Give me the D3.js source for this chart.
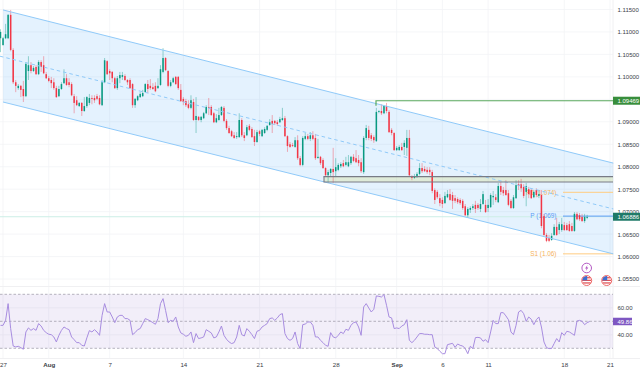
<!DOCTYPE html>
<html>
<head>
<meta charset="utf-8">
<script src="https://cdn.jsdelivr.net/npm/d3@7"></script>
<style>
  html, body { margin: 0; padding: 0; background: #fff; }
  svg { display: block; font-family: "Liberation Sans", Arial, sans-serif; }
</style>
</head>
<body>
<svg id="chart" width="640" height="372"></svg>
<script>
"use strict";

// price ticks on the right axis (1.09500 sits under the green label)
const priceTicks = [1.115, 1.11, 1.105, 1.1, 1.09, 1.085, 1.08, 1.075, 1.07, 1.065, 1.06, 1.055];
const priceGrid = [1.115, 1.11, 1.105, 1.1, 1.095, 1.09, 1.085, 1.08, 1.075, 1.07, 1.065, 1.06, 1.055];

// bar number of each date label
const dateBars = [1, 19, 43, 72, 102, 132, 156, 174, 192, 222, 240];
const dateLabels = ["27", "Aug", "7", "14", "21", "28", "Sep", "6", "11", "18", "21"];
const boldDates = ["Aug", "Sep"];

// candles, in price
const opens = [
1.1086,1.1071,1.1086,1.1086,1.1138,1.1060,1.0988,1.0975,1.0980,1.0973,1.0957,1.1013,1.1026,1.1013,1.1022,1.1006,1.1033,1.1026,1.1006,1.0997,1.0993,1.0988,1.0975,1.0957,1.0973,1.0986,1.0997,1.0988,1.0984,1.0957,1.0948,1.0935,1.0942,1.0924,1.0935,1.0942,1.0953,1.0953,1.0957,1.0953,1.0937,1.0988,1.1035,1.1013,1.1011,1.0997,1.0975,1.0997,1.1000,1.1002,1.0993,1.0993,1.0984,1.0937,1.0948,1.0955,1.0957,1.0966,1.0984,1.0980,1.0977,1.0980,1.0975,1.0982,1.1011,1.1042,1.1013,1.0980,1.0988,1.1000,1.1000,1.0971,1.0951,1.0946,1.0939,1.0931,1.0944,1.0904,1.0911,1.0904,1.0908,1.0919,1.0933,1.0933,1.0919,
1.0899,1.0904,1.0915,1.0931,1.0902,1.0886,1.0879,1.0870,1.0866,1.0866,1.0904,1.0870,1.0870,1.0891,1.0884,1.0868,1.0855,1.0879,1.0868,1.0875,1.0882,1.0893,1.0902,1.0902,1.0899,1.0899,1.0904,1.0908,1.0868,1.0850,1.0848,1.0844,1.0859,1.0819,1.0804,1.0862,1.0868,1.0862,1.0870,1.0864,1.0819,1.0822,1.0815,1.0797,1.0781,1.0786,1.0795,1.0790,1.0793,1.0801,1.0808,1.0804,1.0801,1.0808,1.0822,1.0819,1.0815,1.0810,1.0788,1.0864,1.0882,1.0870,1.0866,1.0857,1.0922,1.0924,1.0919,1.0935,1.0922,1.0882,1.0875,1.0837,1.0837,1.0844,1.0844,1.0842,1.0864,1.0779,1.0775,1.0777,1.0784,1.0797,1.0795,1.0793,
1.0793,1.0788,1.0748,1.0744,1.0730,1.0726,1.0719,1.0732,1.0739,1.0737,1.0730,1.0728,1.0726,1.0724,1.0712,1.0692,1.0704,1.0708,1.0715,1.0715,1.0706,1.0717,1.0715,1.0708,1.0710,1.0732,1.0732,1.0721,1.0757,1.0748,1.0748,1.0741,1.0724,1.0708,1.0730,1.0761,1.0761,1.0755,1.0744,1.0750,1.0748,1.0732,1.0748,1.0735,1.0737,1.0690,1.0648,1.0641,1.0637,1.0648,1.0666,1.0659,1.0659,1.0670,1.0670,1.0672,1.0668,1.0657,1.0695,1.0692,1.0688,1.0679,1.0686
];
const highs = [
1.1106,1.1089,1.1118,1.1140,1.1149,1.1064,1.0993,1.0984,1.0982,1.0991,1.1033,1.1046,1.1033,1.1024,1.1026,1.1037,1.1037,1.1046,1.1011,1.1002,1.1000,1.0997,1.0980,1.0980,1.0988,1.1017,1.1006,1.0997,1.0988,1.0962,1.0957,1.0944,1.0944,1.0955,1.0957,1.0962,1.0959,1.0959,1.0962,1.0959,1.0993,1.1042,1.1037,1.1017,1.1013,1.1000,1.1002,1.1011,1.1011,1.1006,1.0995,1.0997,1.0986,1.0953,1.0959,1.0966,1.0971,1.0986,1.0993,1.0995,1.0986,1.0988,1.0997,1.1026,1.1064,1.1044,1.1015,1.0993,1.1000,1.1002,1.1002,1.0984,1.0955,1.0951,1.0948,1.0959,1.0951,1.0955,1.0913,1.0913,1.0922,1.0937,1.0953,1.0937,1.0922,
1.0917,1.0931,1.0935,1.0935,1.0906,1.0891,1.0882,1.0877,1.0877,1.0919,1.0908,1.0877,1.0893,1.0895,1.0888,1.0882,1.0882,1.0882,1.0884,1.0888,1.0893,1.0906,1.0915,1.0904,1.0904,1.0911,1.0931,1.0913,1.0870,1.0855,1.0853,1.0866,1.0870,1.0824,1.0868,1.0875,1.0873,1.0877,1.0879,1.0873,1.0862,1.0824,1.0819,1.0799,1.0793,1.0797,1.0842,1.0819,1.0808,1.0810,1.0815,1.0822,1.0826,1.0824,1.0828,1.0837,1.0826,1.0819,1.0868,1.0893,1.0891,1.0875,1.0870,1.0931,1.0926,1.0939,1.0937,1.0942,1.0926,1.0886,1.0877,1.0846,1.0848,1.0853,1.0859,1.0882,1.0882,1.0781,1.0784,1.0788,1.0808,1.0808,1.0801,1.0799,
1.0799,1.0793,1.0752,1.0748,1.0739,1.0732,1.0744,1.0748,1.0750,1.0744,1.0737,1.0732,1.0730,1.0728,1.0717,1.0710,1.0712,1.0717,1.0724,1.0719,1.0728,1.0746,1.0726,1.0728,1.0741,1.0746,1.0739,1.0764,1.0766,1.0755,1.0770,1.0748,1.0728,1.0737,1.0770,1.0770,1.0773,1.0761,1.0764,1.0755,1.0752,1.0748,1.0752,1.0748,1.0748,1.0695,1.0652,1.0648,1.0652,1.0672,1.0686,1.0677,1.0686,1.0677,1.0675,1.0679,1.0675,1.0699,1.0699,1.0697,1.0695,1.0695,1.0693
];
const lows = [
1.1055,1.1069,1.1084,1.1084,1.1057,1.0984,1.0966,1.0971,1.0955,1.0944,1.0955,1.0993,1.1008,1.1011,1.1004,1.1004,1.1011,1.1006,1.0995,1.0988,1.0975,1.0971,1.0953,1.0955,1.0971,1.0984,1.0980,1.0977,1.0957,1.0919,1.0935,1.0933,1.0913,1.0922,1.0931,1.0937,1.0939,1.0942,1.0948,1.0937,1.0935,1.0986,1.1004,1.0993,1.0988,1.0973,1.0971,1.0986,1.0993,1.0991,1.0982,1.0973,1.0931,1.0931,1.0946,1.0953,1.0955,1.0966,1.0964,1.0971,1.0971,1.0966,1.0973,1.0980,1.1008,1.1013,1.0977,1.0977,1.0986,1.0982,1.0971,1.0944,1.0937,1.0933,1.0928,1.0928,1.0902,1.0875,1.0902,1.0899,1.0906,1.0917,1.0915,1.0913,1.0897,
1.0897,1.0902,1.0913,1.0899,1.0882,1.0873,1.0866,1.0862,1.0862,1.0864,1.0866,1.0857,1.0868,1.0879,1.0864,1.0846,1.0853,1.0868,1.0866,1.0873,1.0879,1.0891,1.0875,1.0893,1.0891,1.0897,1.0902,1.0866,1.0833,1.0842,1.0844,1.0842,1.0815,1.0801,1.0801,1.0859,1.0859,1.0857,1.0859,1.0815,1.0819,1.0804,1.0795,1.0779,1.0764,1.0779,1.0764,1.0779,1.0790,1.0797,1.0799,1.0801,1.0799,1.0804,1.0810,1.0808,1.0801,1.0786,1.0784,1.0859,1.0859,1.0857,1.0853,1.0855,1.0919,1.0915,1.0917,1.0919,1.0875,1.0870,1.0835,1.0835,1.0835,1.0835,1.0826,1.0824,1.0779,1.0770,1.0773,1.0775,1.0781,1.0786,1.0788,1.0784,
1.0781,1.0741,1.0717,1.0728,1.0712,1.0708,1.0717,1.0730,1.0724,1.0706,1.0719,1.0717,1.0715,1.0704,1.0690,1.0686,1.0697,1.0704,1.0697,1.0704,1.0699,1.0715,1.0697,1.0699,1.0708,1.0715,1.0721,1.0719,1.0737,1.0735,1.0735,1.0712,1.0706,1.0706,1.0728,1.0748,1.0744,1.0730,1.0712,1.0730,1.0728,1.0730,1.0732,1.0730,1.0663,1.0646,1.0632,1.0632,1.0635,1.0646,1.0646,1.0650,1.0655,1.0657,1.0657,1.0655,1.0655,1.0655,1.0681,1.0679,1.0677,1.0675,1.0683
];
const closes = [
1.1100,1.1086,1.1095,1.1138,1.1060,1.0988,1.0980,1.0980,1.0971,1.0957,1.1029,1.1026,1.1013,1.1020,1.1006,1.1033,1.1022,1.1008,1.0997,1.0991,1.0986,1.0975,1.0955,1.0973,1.0984,1.0997,1.0982,1.0982,1.0959,1.0942,1.0937,1.0942,1.0924,1.0935,1.0955,1.0953,1.0951,1.0948,1.0951,1.0939,1.0988,1.1037,1.1006,1.1008,1.0997,1.0975,1.0997,1.1004,1.1004,1.0993,1.0988,1.0975,1.0937,1.0951,1.0957,1.0962,1.0964,1.0984,1.0973,1.0975,1.0973,1.0968,1.0980,1.1017,1.1042,1.1015,1.0980,1.0988,1.0997,1.0984,1.0975,1.0946,1.0944,1.0937,1.0931,1.0948,1.0904,1.0913,1.0904,1.0911,1.0919,1.0933,1.0931,1.0915,1.0899,
1.0908,1.0915,1.0933,1.0902,1.0886,1.0875,1.0868,1.0864,1.0868,1.0904,1.0870,1.0864,1.0888,1.0882,1.0866,1.0855,1.0877,1.0873,1.0882,1.0884,1.0891,1.0899,1.0895,1.0897,1.0895,1.0906,1.0908,1.0868,1.0846,1.0844,1.0846,1.0859,1.0819,1.0804,1.0864,1.0868,1.0862,1.0870,1.0862,1.0819,1.0822,1.0808,1.0797,1.0781,1.0788,1.0795,1.0788,1.0799,1.0804,1.0806,1.0801,1.0810,1.0810,1.0822,1.0813,1.0810,1.0808,1.0790,1.0864,1.0886,1.0864,1.0862,1.0859,1.0922,1.0924,1.0919,1.0935,1.0924,1.0877,1.0875,1.0837,1.0842,1.0844,1.0837,1.0853,1.0864,1.0781,1.0775,1.0779,1.0784,1.0797,1.0790,1.0790,1.0788,
1.0788,1.0746,1.0726,1.0732,1.0719,1.0717,1.0735,1.0739,1.0726,1.0724,1.0724,1.0721,1.0719,1.0708,1.0692,1.0706,1.0708,1.0712,1.0706,1.0708,1.0717,1.0739,1.0699,1.0715,1.0737,1.0735,1.0726,1.0757,1.0744,1.0741,1.0737,1.0715,1.0708,1.0732,1.0759,1.0757,1.0752,1.0735,1.0757,1.0739,1.0730,1.0744,1.0737,1.0739,1.0668,1.0648,1.0635,1.0635,1.0646,1.0666,1.0648,1.0672,1.0672,1.0659,1.0659,1.0657,1.0657,1.0695,1.0683,1.0683,1.0679,1.0688,1.0688
];

// RSI line, one value per bar
const rsiValues = [
47.0,47.0,50.7,63.1,44.6,31.7,31.0,31.5,30.5,29.3,42.1,45.1,43.3,44.6,43.3,48.3,46.5,43.3,41.6,40.4,40.1,38.4,34.7,39.6,43.3,45.8,44.6,43.8,38.4,36.4,34.2,34.2,32.2,31.7,37.7,43.1,42.1,43.8,42.1,39.6,54.4,63.1,56.9,56.9,53.2,49.0,53.2,54.4,54.4,52.0,52.0,50.7,40.1,41.6,43.8,44.6,48.3,52.0,51.2,50.2,49.0,47.8,52.0,63.1,66.8,58.1,49.0,50.7,50.0,53.2,45.8,41.4,40.4,38.9,39.6,42.1,34.2,40.9,37.2,37.7,38.4,43.8,42.6,41.4,37.7,38.4,42.1,46.5,39.6,36.7,34.7,33.5,34.2,38.4,47.0,40.1,39.1,44.6,42.6,40.1,37.2,42.6,43.3,45.8,47.0,48.3,52.0,52.5,50.7,52.5,54.9,55.7,40.9,37.2,35.9,37.2,42.1,33.5,29.8,47.5,48.0,49.5,49.5,47.0,38.4,38.4,35.9,
34.2,32.2,31.5,41.6,38.4,37.7,39.6,42.1,40.9,44.1,43.3,47.0,49.0,49.5,45.8,39.6,60.6,63.1,59.9,56.9,58.9,68.8,68.5,68.0,69.8,61.9,53.2,52.5,44.6,45.1,44.6,46.5,47.5,51.2,35.9,34.2,35.9,38.4,40.9,40.9,40.4,40.4,40.1,40.1,31.0,29.8,27.8,26.0,26.0,32.7,33.2,33.7,30.7,33.2,32.2,31.7,29.8,26.0,31.5,29.8,37.9,38.1,37.7,35.2,36.4,34.2,42.1,50.7,48.3,48.3,56.4,56.4,54.0,51.2,42.1,40.1,47.0,56.9,58.1,55.7,50.0,53.2,51.5,47.5,51.2,53.2,45.8,34.7,30.5,29.8,29.8,33.5,37.2,34.7,41.6,39.6,42.6,42.1,40.9,39.6,50.2,50.7,50.0,47.5,49.0,49.86
];
const rsiTicks = [60, 40];
const rsiBands = [70, 50, 30];

if (new Set([opens.length, highs.length, lows.length, closes.length]).size > 1) {
    throw new Error(`lengths ${opens.length} ${highs.length} ${lows.length} ${closes.length} ${rsiValues.length}`);
}

// channel anchors: [bar, price]
const channelUpper = [[1, 1.1149], [241.3, 1.0808]];
const channelMiddle = [[-0.2, 1.1046], [241.3, 1.0706]];
const channelLower = [[1, 1.0944], [241.3, 1.0606]];

const lastPrice = 1.06886;
const highLevel = 1.09469;
const zoneTop = 1.0778;
const zoneBottom = 1.0766;
const pivots = [
    { label: "R1 (1.074)", price: 1.0743, color: "#ffcc80", text: "#f5b25c" },
    { label: "P (1.069)", price: 1.069, color: "#5b9cf6", text: "#5b9cf6" },
    { label: "S1 (1.06)", price: 1.0606, color: "#ffcc80", text: "#f5b25c" }
];

const W = 613;
const green = "#089981", red = "#f23645";

const svg = d3.select("#chart");
const x = d3.scaleLinear().domain([0, 240]).range([0.5, 610]);
const y = d3.scaleLinear().domain([1.115, 1.055]).range([9.5, 279]);
const yRsi = d3.scaleLinear().domain([70, 30]).range([294.3, 348.3]);

// grid
const grid = svg.append("g").attr("stroke", "#f3f4f6").attr("stroke-width", 0.8);
priceGrid.forEach(p => grid.append("line").attr("x1", 0).attr("x2", W).attr("y1", y(p)).attr("y2", y(p)));
[60, 40].forEach(v => grid.append("line").attr("x1", 0).attr("x2", W).attr("y1", yRsi(v)).attr("y2", yRsi(v)));
dateBars.forEach(b => grid.append("line").attr("x1", x(b)).attr("x2", x(b)).attr("y1", 0).attr("y2", 358));
svg.append("line").attr("x1", 0).attr("x2", 640).attr("y1", 286.5).attr("y2", 286.5).attr("stroke", "#f0f0f2");
svg.append("line").attr("x1", 0).attr("x2", 640).attr("y1", 358.5).attr("y2", 358.5).attr("stroke", "#f0f0f2");
svg.append("line").attr("x1", W).attr("x2", W).attr("y1", 0).attr("y2", 358).attr("stroke", "#f0f0f2");

// channel
const pt = d => [x(d[0]), y(d[1])];
svg.append("path")
    .attr("d", d3.line()([pt(channelUpper[0]), pt(channelUpper[1]), pt(channelLower[1]), pt(channelLower[0])]) + "Z")
    .attr("fill", "#2196f3").attr("fill-opacity", 0.12);

// last price line
svg.append("line").attr("x1", 0).attr("x2", W).attr("y1", y(lastPrice)).attr("y2", y(lastPrice))
    .attr("stroke", "#cdeee6").attr("stroke-width", 1);

// support zone
svg.append("rect").attr("x", 324).attr("width", W - 324).attr("y", y(zoneTop)).attr("height", y(zoneBottom) - y(zoneTop))
    .attr("fill", "#d4dc7a").attr("fill-opacity", 0.28);

// pivots
pivots.forEach(d => {
    svg.append("line").attr("x1", 563).attr("x2", W).attr("y1", y(d.price)).attr("y2", y(d.price))
        .attr("stroke", d.color).attr("stroke-width", 1);
    svg.append("text").attr("x", 556.5).attr("y", y(d.price) + 2.2).attr("text-anchor", "end")
        .attr("font-size", 6.4).attr("fill", d.text).text(d.label);
});

// candles
const bars = closes.map((c, i) => ({ i: i, o: opens[i], h: highs[i], l: lows[i], c: c }));
const candle = svg.append("g").selectAll("g").data(bars).join("g");
candle.append("line")
    .attr("x1", d => x(d.i)).attr("x2", d => x(d.i))
    .attr("y1", d => y(d.h)).attr("y2", d => y(d.l))
    .attr("stroke", d => d.c >= d.o ? green : red)
    .attr("stroke-opacity", 0.4).attr("stroke-width", 1);
candle.append("rect")
    .attr("x", d => x(d.i) - 0.75).attr("width", 1.5)
    .attr("y", d => Math.min(y(d.o), y(d.c)))
    .attr("height", d => Math.max(0.8, Math.abs(y(d.o) - y(d.c))))
    .attr("fill", d => d.c >= d.o ? green : red);

// channel lines
const line = d3.line().x(d => x(d[0])).y(d => y(d[1]));
svg.append("path").attr("d", line(channelUpper)).attr("fill", "none").attr("stroke", "#90caf9").attr("stroke-width", 1);
svg.append("path").attr("d", line(channelLower)).attr("fill", "none").attr("stroke", "#90caf9").attr("stroke-width", 1);
svg.append("path").attr("d", line(channelMiddle)).attr("fill", "none").attr("stroke", "#90caf9").attr("stroke-width", 1).attr("stroke-dasharray", "3.5 3");

// zone borders
[zoneTop, zoneBottom].forEach(p => svg.append("line").attr("x1", 323.5).attr("x2", W).attr("y1", y(p)).attr("y2", y(p))
    .attr("stroke", "#787b86").attr("stroke-width", 1.1));
svg.append("line").attr("x1", 324).attr("x2", 324).attr("y1", y(zoneTop)).attr("y2", y(zoneBottom))
    .attr("stroke", "#787b86").attr("stroke-width", 1.1);

// high level
svg.append("path")
    .attr("d", `M376,${y(highLevel) + 5}V${y(highLevel)}H${W}`)
    .attr("fill", "none").attr("stroke", "#5aa85e").attr("stroke-width", 1.2);

// event icons
const defs = svg.append("defs");
defs.append("clipPath").attr("id", "flagClip").append("circle").attr("r", 4.6);
function flag(cx, cy) {
    const g = svg.append("g").attr("transform", `translate(${cx},${cy})`);
    const inner = g.append("g").attr("clip-path", "url(#flagClip)");
    inner.append("rect").attr("x", -5).attr("y", -5).attr("width", 10).attr("height", 10).attr("fill", "#fff");
    [-3.4, -0.8, 1.8].forEach(s => inner.append("rect").attr("x", -5).attr("y", s).attr("width", 10).attr("height", 1.3).attr("fill", "#e0565a"));
    inner.append("rect").attr("x", -5).attr("y", -5).attr("width", 5.5).attr("height", 4.8).attr("fill", "#3d6fd0");
    g.append("circle").attr("r", 5).attr("fill", "none").attr("stroke", "#f06a6a").attr("stroke-width", 1);
}
flag(586.7, 280.5);
flag(606.7, 280.5);
const bolt = svg.append("g").attr("transform", "translate(586.7,268)");
bolt.append("circle").attr("r", 4.8).attr("fill", "#fff").attr("stroke", "#ab47bc").attr("stroke-width", 0.9);
bolt.append("path").attr("d", "M0.9,-3L-1.6,0.5H0L-0.9,3L1.6,-0.6H0Z").attr("fill", "#ab47bc");

// RSI pane
svg.append("rect").attr("x", 0).attr("width", W).attr("y", yRsi(70)).attr("height", yRsi(30) - yRsi(70))
    .attr("fill", "#7e57c2").attr("fill-opacity", 0.1);
rsiBands.forEach(v => svg.append("line").attr("x1", 0).attr("x2", W).attr("y1", yRsi(v)).attr("y2", yRsi(v))
    .attr("stroke", "#9a95a3").attr("stroke-width", 0.7).attr("stroke-dasharray", "2.5 2"));
svg.append("path")
    .attr("d", d3.line().x((d, i) => x(i)).y(d => yRsi(d))(rsiValues))
    .attr("fill", "none").attr("stroke", "#a88de0").attr("stroke-width", 1);

// axes
const axisRight = d3.axisRight(y).tickValues(priceTicks).tickSize(0).tickPadding(0).tickFormat(d3.format(".5f"));
const gy = svg.append("g").attr("transform", "translate(617.5,0)").call(axisRight);
const axisRsi = d3.axisRight(yRsi).tickValues(rsiTicks).tickSize(0).tickPadding(0).tickFormat(d3.format(".2f"));
const gr = svg.append("g").attr("transform", "translate(617.5,0)").call(axisRsi);
const axisDate = d3.axisBottom(x).tickValues(dateBars).tickSize(0).tickPadding(0)
    .tickFormat((d, i) => dateLabels[i]);
const gx = svg.append("g").attr("transform", "translate(0,363)").call(axisDate);
[gy, gr, gx].forEach(g => {
    g.select(".domain").remove();
    g.selectAll("text").attr("font-size", 6).attr("font-family", "'Liberation Sans', Arial, sans-serif").attr("fill", "#3a3d46");
});
gx.selectAll("text").attr("font-size", 6.2).attr("font-weight", d => boldDates.includes(dateLabels[dateBars.indexOf(d)]) ? "bold" : "normal");

// value labels on the axis
function tag(py, h, w, fill, txt) {
    svg.append("rect").attr("x", W).attr("y", py - h / 2).attr("width", w).attr("height", h).attr("fill", fill);
    svg.append("text").attr("x", 617.5).attr("y", py + 2.1).attr("font-size", 6).attr("fill", "#fff").text(txt);
}
tag(y(highLevel), 8, 27, "#388e3c", "1.09469");
tag(y(lastPrice), 8, 27, "#1f7a68", "1.06886");
tag(yRsi(49.86), 7.5, 19, "#7e57c2", "49.86");
</script>
</body>
</html>
